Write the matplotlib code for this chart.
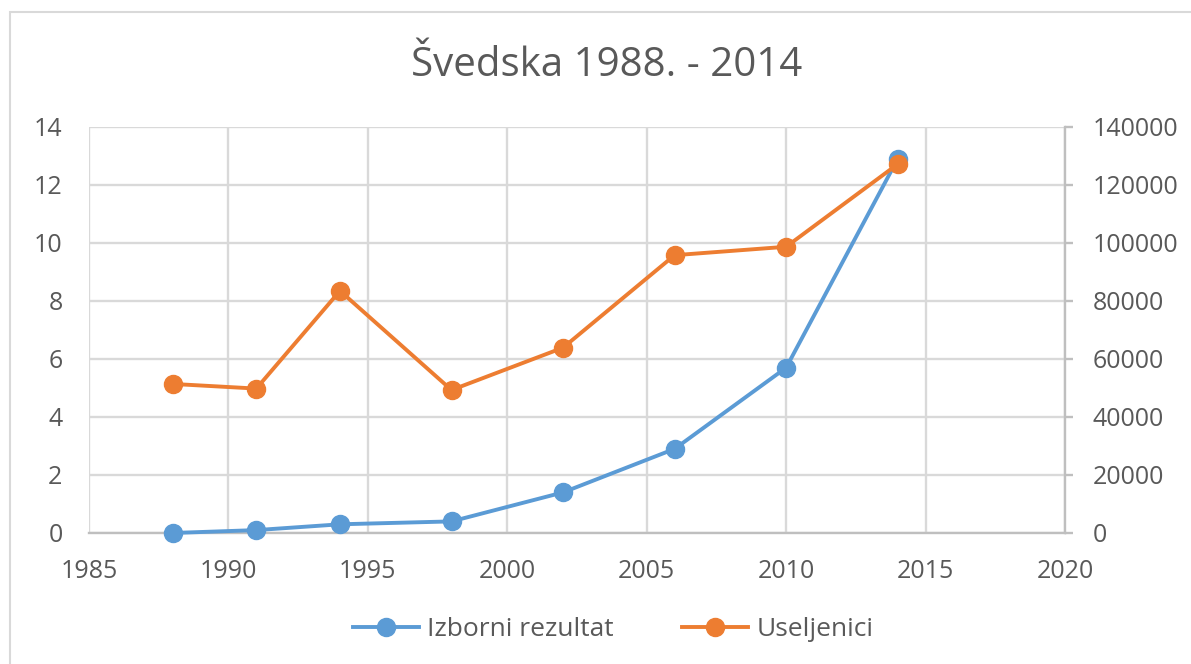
import matplotlib.pyplot as plt
from matplotlib.patches import Rectangle

godine = [1988, 1991, 1994, 1998, 2002, 2006, 2010, 2014]
izborni = [0.0, 0.1, 0.3, 0.4, 1.4, 2.9, 5.7, 12.9]
useljenici = [51400, 49800, 83500, 49300, 63900, 95800, 98700, 127200]

plt.rcParams['font.family'] = ['Open Sans', 'DejaVu Sans']
grey_txt = '#595959'
grid_c = '#d9d9d9'

fig = plt.figure(figsize=(11.91, 6.64), dpi=100)
fig.patches.append(Rectangle((10/1191, -0.1), 1.2, 1 - 12/664 + 0.1, transform=fig.transFigure,
                             fill=False, edgecolor='#d9d9d9', linewidth=1.5))

ax1 = fig.add_axes([89/1191, 1 - 533/664, (1065 - 89)/1191, (533 - 127)/664])
ax1.set_xlim(1985, 2020)
ax1.set_ylim(0, 14)
ax1.set_xticks(range(1985, 2021, 5))
ax1.set_yticks(range(0, 15, 2))
ax1.grid(True, color=grid_c, linewidth=1.7)
ax1.set_axisbelow(True)
for s in ['top', 'right', 'left']:
    ax1.spines[s].set_visible(False)
ax1.spines['bottom'].set_color('#bfbfbf')
ax1.spines['bottom'].set_linewidth(1.7)
ax1.tick_params(axis='both', length=0, labelsize=18, labelcolor=grey_txt)
ax1.tick_params(axis='x', pad=19)
ax1.tick_params(axis='y', pad=19)

l1, = ax1.plot(godine, izborni, color='#5b9bd5', linewidth=2.8, marker='o', markersize=13,
               label='Izborni rezultat', clip_on=False, zorder=3)

ax2 = ax1.twinx()
ax2.set_ylim(0, 140000)
ax2.set_yticks(range(0, 140001, 20000))
for s in ['top', 'left', 'bottom']:
    ax2.spines[s].set_visible(False)
ax2.spines['right'].set_color('#bfbfbf')
ax2.spines['right'].set_linewidth(1.7)
ax2.tick_params(axis='y', direction='out', length=6, width=1.7, color='#bfbfbf',
                labelsize=18, labelcolor=grey_txt, pad=14)
l2, = ax2.plot(godine, useljenici, color='#ed7d31', linewidth=2.8, marker='o', markersize=13,
               label='Useljenici', clip_on=False, zorder=3)

fig.suptitle('Švedska 1988. - 2014', x=0.509, y=1 - 66/664, va='center', fontsize=29, color=grey_txt)
fig.legend(handles=[l1, l2], loc='center', bbox_to_anchor=(0.515, 1 - 630/664), ncol=2,
           frameon=False, fontsize=19, labelcolor=grey_txt, columnspacing=2.6,
           handlelength=2.5, handletextpad=0.3)

fig.savefig('out.png', dpi=100)
